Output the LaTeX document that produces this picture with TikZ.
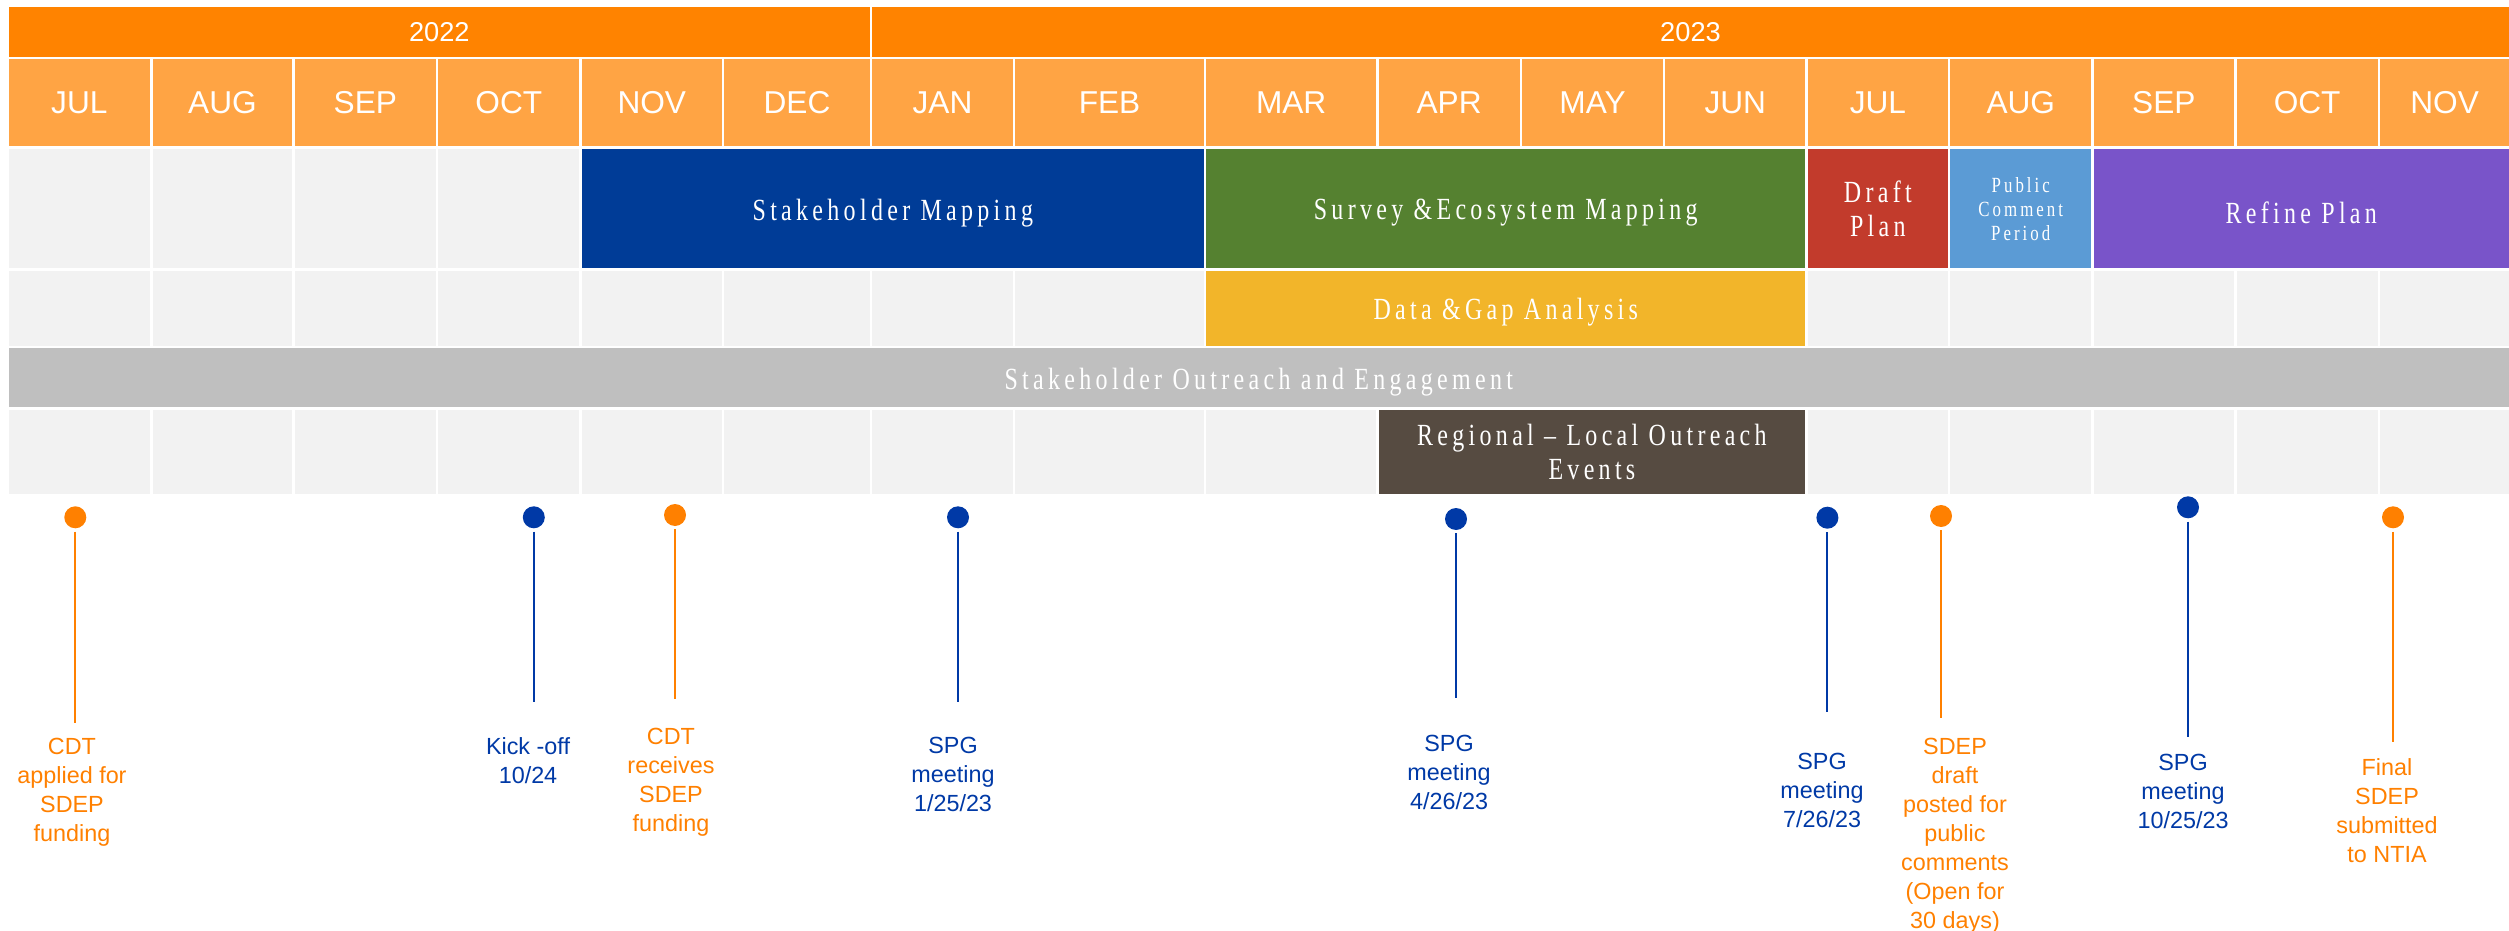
\documentclass[tikz,border=0pt]{standalone}
\usepackage{fontspec}
\setmainfont{Liberation Sans}
\newfontfamily\barfont[FakeStretch=0.78,LetterSpace=14]{Liberation Serif}
\definecolor{yearorange}{HTML}{FF8300}
\definecolor{monthorange}{HTML}{FFA444}
\definecolor{cellgray}{HTML}{F2F2F2}
\definecolor{mapblue}{HTML}{003C97}
\definecolor{surveygreen}{HTML}{558130}
\definecolor{draftred}{HTML}{C23B2C}
\definecolor{publicblue}{HTML}{5B9BD5}
\definecolor{refinepurple}{HTML}{7954C9}
\definecolor{datayellow}{HTML}{F2B52A}
\definecolor{outreachgray}{HTML}{BFBFBF}
\definecolor{regionalbrown}{HTML}{564B41}
\definecolor{mileblue}{HTML}{0039A6}
\definecolor{mileorange}{HTML}{FF8000}

\begin{document}
\begin{tikzpicture}
[x=0.2mm,y=-0.2mm,
  yeardecorate/.style={font=\fontsize{15.5}{18}\selectfont,text=white},
  monthdecorate/.style={font=\fontsize{18}{20}\selectfont,text=white},
  bardecorate/.style={font=\barfont\fontsize{17.5}{19}\selectfont,text=white,align=center},
  flatdecorate/.style={yshift=-0.8mm},
  dotdecorate/.style={shape=circle,inner sep=0pt,minimum size=4.4mm},
  stemdecorate/.style={-,line width=1.1pt,shorten <=0.6mm},
  labeldecorate/.style={font=\fontsize{13.3}{16.5}\selectfont,align=center,anchor=north,inner sep=0pt}]
\useasboundingbox (0,0) rectangle (2509,931);
%%
%% Macros
%% Phase bar with its label
\newcommand{\phase}[8][]{%
  \fill[#7] ({#3+1.2},#5) rectangle ({#4-1.2},#6);
  \node (#2) at ({(#3+#4)/2},{(#5+#6)/2}) [bardecorate,#1] {#8};
}
%% Milestone: dot, stem and text
\newcommand{\milestone}[8]{%
  \node (#1dot) at (#2,#3) [dotdecorate,fill=#5] {};
  \coordinate (#1end) at (#2,#4);
  \draw[stemdecorate,#5] (#1dot) -- (#1end);
  \node (#1label) at (#6,#7) [labeldecorate,text=#5] {#8};
}
%%
%% Years
\fill[yearorange] (8.6,6.7) rectangle (870,56.7);
\fill[yearorange] (872,6.7) rectangle (2509,56.7);
\node (year2022) at (439.3,32) [yeardecorate] {2022};
\node (year2023) at (1690.5,32) [yeardecorate] {2023};
%% Months and empty cells
\foreach \mon/\xa/\xb [count=\i] in {
  JUL/7.4/151.3, AUG/151.3/293.6, SEP/293.6/437.1, OCT/437.1/580.6,
  NOV/580.6/723, DEC/723/871, JAN/871/1014, FEB/1014/1205,
  MAR/1205/1377.3, APR/1377.3/1521, MAY/1521/1664, JUN/1664/1806.5,
  JUL/1806.5/1949.2, AUG/1949.2/2092.3, SEP/2092.3/2235.3,
  OCT/2235.3/2379, NOV/2379/2510.2}
{
  \fill[monthorange] ({\xa+1.2},59.3) rectangle ({\xb-1.2},146);
  \node (month\i) at ({(\xa+\xb)/2},102.7) [monthdecorate] {\mon};
  \foreach \ya/\yb in {149.3/268.3, 271/345.7, 410/494}
    \fill[cellgray] ({\xa+1.2},\ya) rectangle ({\xb-1.2},\yb);
}
%%
%% Phases
\phase[flatdecorate]{stakemap}{580.6}{1205}{149.3}{268.3}{mapblue}{Stakeholder Mapping}
\phase[flatdecorate]{survey}{1205}{1806.5}{149.3}{268.3}{surveygreen}{Survey \&Ecosystem Mapping}
\phase{draft}{1806.5}{1949.2}{149.3}{268.3}{draftred}{Draft\\Plan}
\phase[font=\barfont\fontsize{12.3}{13.7}\selectfont]{public}{1949.2}{2092.3}{149.3}{268.3}{publicblue}{Public\\Comment\\Period}
\phase[flatdecorate]{refine}{2092.3}{2510.2}{149.3}{268.3}{refinepurple}{Refine Plan}
\phase[flatdecorate]{datagap}{1205}{1806.5}{271}{345.7}{datayellow}{Data \&Gap Analysis}
\phase[flatdecorate]{outreach}{7.4}{2510.2}{348.5}{407.3}{outreachgray}{Stakeholder Outreach and Engagement}
\phase{regional}{1377.3}{1806.5}{410}{494}{regionalbrown}{Regional – Local Outreach\\Events}
%%
%% Milestones
\milestone{cdtapply}{75.3}{517.3}{722.7}{mileorange}{72}{738.3}{CDT\\applied for\\SDEP\\funding}
\milestone{kickoff}{533.8}{517.3}{701.7}{mileblue}{528}{737.3}{Kick -off\\10/24}
\milestone{cdtreceive}{675}{515}{699}{mileorange}{671}{728.3}{CDT\\receives\\SDEP\\funding}
\milestone{spgjan}{958}{517.3}{701.7}{mileblue}{953}{737.3}{SPG\\meeting\\1/25/23}
\milestone{spgapr}{1456}{519}{698.3}{mileblue}{1449}{734.9}{SPG\\meeting\\4/26/23}
\milestone{spgjul}{1827.4}{517.7}{711.7}{mileblue}{1822}{753.3}{SPG\\meeting\\7/26/23}
\milestone{sdepdraft}{1941}{516}{718.3}{mileorange}{1955}{737.6}{SDEP\\draft\\posted for\\public\\comments\\(Open for\\30 days)}
\milestone{spgoct}{2188}{507.3}{737.3}{mileblue}{2183}{754.3}{SPG\\meeting\\10/25/23}
\milestone{final}{2393}{517.3}{742.3}{mileorange}{2387}{758.3}{Final\\SDEP\\submitted\\to NTIA}
\end{tikzpicture}
\end{document}
